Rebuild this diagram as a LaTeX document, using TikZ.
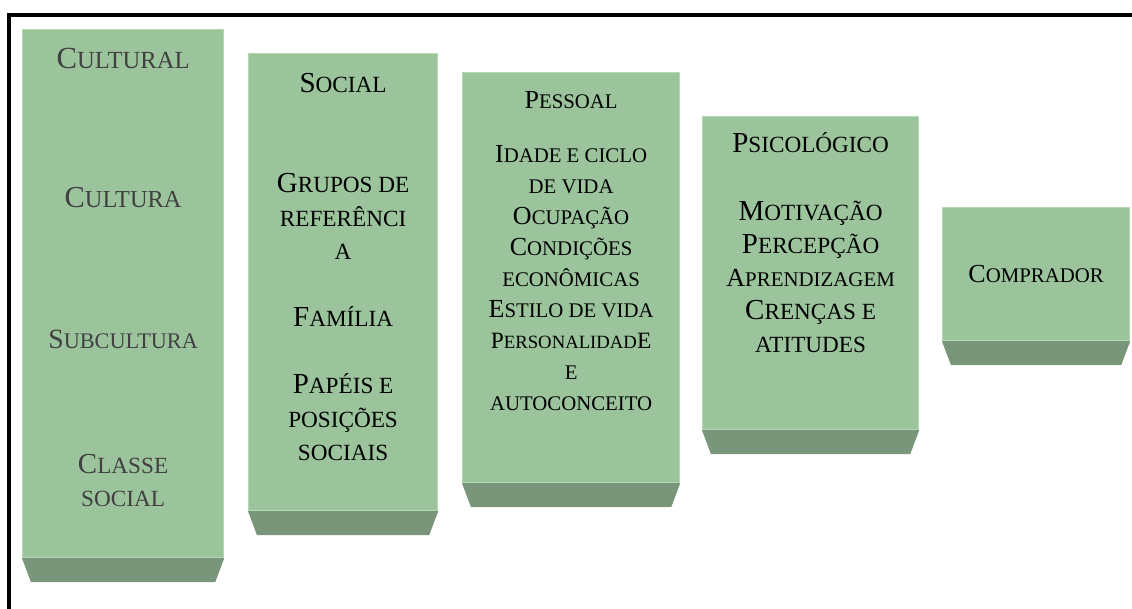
\documentclass[tikz,border=0pt]{standalone}
\usepackage{fontspec}
\setmainfont{Liberation Serif}
\usetikzlibrary{positioning}
\definecolor{verde}{HTML}{9BC49C}
\definecolor{verdeclaro}{HTML}{B2DBB2}
\definecolor{verdeescuro}{HTML}{7A967A}
\definecolor{cinza}{HTML}{404040}
\makeatletter
% scale the current font size by a factor
\newcommand{\esc}[2]{{\fontsize{\fpeval{#1*\f@size}}{\f@baselineskip}\selectfont #2}}
\makeatother
% fake small caps: lower case letters typed as smaller capitals
\newcommand{\lc}[1]{\esc{0.8}{#1}}
\tikzset{
  %style for the green blocks
  fator/.style={
    rectangle,
    fill=verde,
    draw=verdeclaro, line width=1.2pt,
    inner sep=0pt,
    anchor=north west},
  %style for the texts in the blocks
  rotulo/.style={
    align=center,
    inner sep=0pt,
    anchor=north},
  %style for the dark step under each block
  degrau/.style={
    fill=verdeescuro}
}

\begin{document}
\begin{tikzpicture}[x=1pt,y=-1pt]
\useasboundingbox (0,0) rectangle (1132,608);
%frame
\draw[line width=4pt] (9,640) -- (9,15) -- (1160,15);

%blocks
\node[fator, minimum width=201pt, minimum height=528pt] (cultural) at (22,29) {};
\node[fator, minimum width=189pt, minimum height=457pt] (social) at (248,53) {};
\node[fator, minimum width=217pt, minimum height=410pt] (pessoal) at (462,72) {};
\node[fator, minimum width=216pt, minimum height=313pt] (psicologico) at (702,116) {};
\node[fator, minimum width=187pt, minimum height=133pt,
      font=\fontsize{26}{31}\selectfont] (comprador) at (942,207) {C\lc{OMPRADOR}};

%steps
\foreach \b in {cultural,social,pessoal,psicologico,comprador}
  \fill[degrau] (\b.south west) -- (\b.south east)
    -- ([xshift=-9pt,yshift=-24pt]\b.south east)
    -- ([xshift=9pt,yshift=-24pt]\b.south west) -- cycle;

%texts
\node[rotulo, text=cinza, font=\fontsize{29}{33}\selectfont, below=19pt of cultural.north]
     {\esc{1.06}{C\lc{ULTURAL}}\\[106pt] \esc{1.05}{C\lc{ULTURA}}\\[108pt]
      \esc{0.96}{S\lc{UBCULTURA}}\\[92pt] C\lc{LASSE}\\ \lc{SOCIAL}};
\node[rotulo, font=\fontsize{29}{33.5}\selectfont, below=20pt of social.north]
     {S\lc{OCIAL}\\[67pt] G\lc{RUPOS DE}\\ \lc{REFERÊNCI}\\ \lc{A}\\[33.5pt]
      F\lc{AMÍLIA}\\[33.5pt] P\lc{APÉIS E}\\ \lc{POSIÇÕES}\\ \lc{SOCIAIS}};
\node[rotulo, font=\fontsize{26}{31}\selectfont, below=19pt of pessoal.north]
     {P\lc{ESSOAL}\\[23pt] I\lc{DADE E CICLO}\\ \lc{DE VIDA}\\ O\lc{CUPAÇÃO}\\
      C\lc{ONDIÇÕES}\\ \lc{ECONÔMICAS}\\ E\lc{STILO DE VIDA}\\
      \esc{0.9}{P\lc{ERSONALIDAD}E}\\ \lc{E}\\ \lc{AUTOCONCEITO}};
\node[rotulo, font=\fontsize{29}{33}\selectfont, below=16pt of psicologico.north]
     {P\lc{SICOLÓGICO}\\[35pt] M\lc{OTIVAÇÃO}\\ P\lc{ERCEPÇÃO}\\
      \esc{0.9}{A\lc{PRENDIZAGEM}}\\ C\lc{RENÇAS E}\\ \lc{ATITUDES}};

\end{tikzpicture}
\end{document}
